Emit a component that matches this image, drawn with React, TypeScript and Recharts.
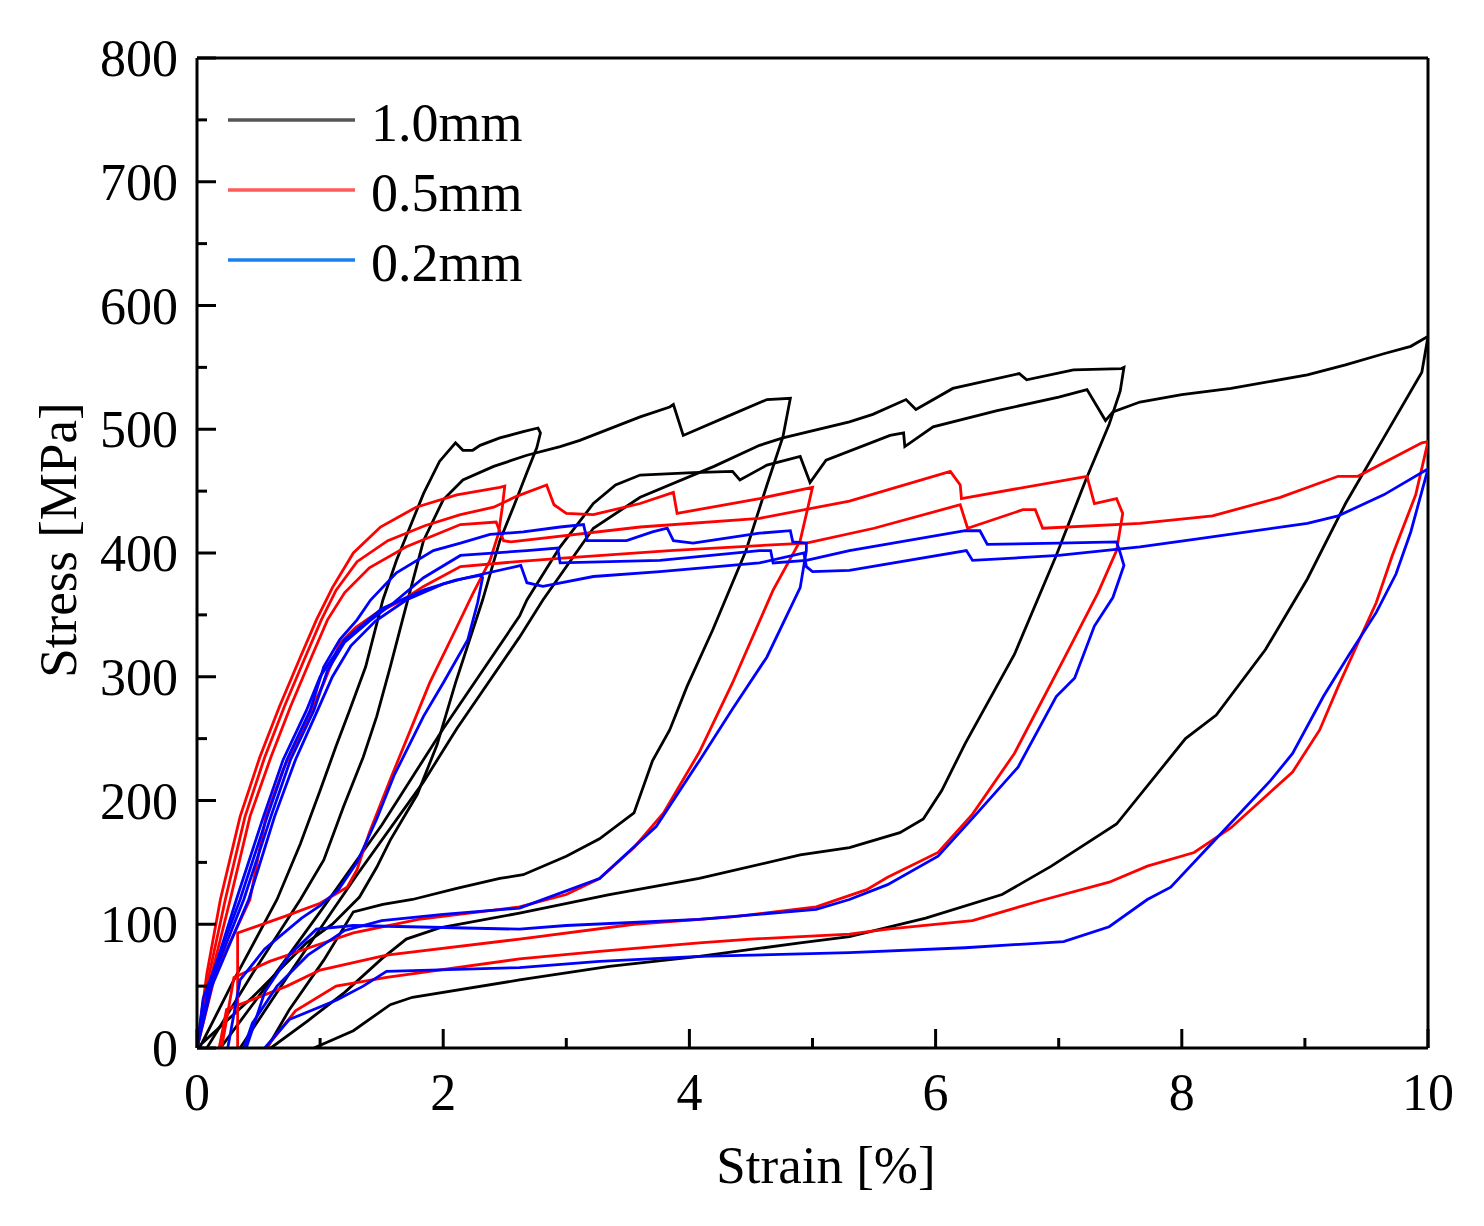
import React from 'react';
import { LineChart, Line, XAxis, YAxis, ReferenceLine } from 'recharts';

type Pt = [number, number];

// 1.0 mm specimens (black)
const black25Load: Pt[] = [[0.02, 0], [0.3, 55], [0.65, 120], [0.84, 165], [1.0, 208], [1.13, 244], [1.24, 273], [1.37, 308], [1.51, 362], [1.62, 394], [1.84, 448], [1.97, 474], [2.1, 489], [2.16, 483], [2.24, 483], [2.3, 487], [2.46, 493], [2.65, 498], [2.77, 501]];
const black25Unload: Pt[] = [[2.79, 497], [2.76, 485], [2.68, 465], [2.57, 437], [2.46, 410], [2.32, 362], [2.1, 295], [1.95, 245], [1.79, 205], [1.57, 168], [1.46, 146], [1.32, 122], [1.1, 100], [0.89, 85], [0.45, 41], [0, 0]];
const black50Load: Pt[] = [[0.08, 0], [0.45, 60], [0.84, 120], [1.03, 152], [1.19, 195], [1.35, 235], [1.46, 268], [1.57, 308], [1.68, 350], [1.84, 410], [2.0, 443], [2.16, 459], [2.41, 470], [2.68, 479], [2.95, 486], [3.11, 491], [3.6, 510], [3.84, 518], [3.87, 520], [3.95, 495], [4.3, 510], [4.63, 524], [4.82, 525]];
const black50Unload: Pt[] = [[4.82, 525], [4.76, 494], [4.63, 455], [4.46, 402], [4.19, 338], [3.98, 292], [3.84, 257], [3.7, 232], [3.55, 190], [3.27, 169], [3.0, 155], [2.65, 140], [2.46, 137], [2.11, 129], [1.75, 120], [1.51, 116], [1.27, 110], [1.03, 71], [0.75, 31], [0.57, 0]];
const black75Load: Pt[] = [[0.35, 0], [0.75, 60], [1.3, 140], [1.84, 215], [2.11, 258], [2.62, 332], [2.81, 362], [3.22, 420], [3.6, 445], [4.2, 470], [4.57, 487], [4.76, 493], [5.3, 506], [5.49, 512], [5.76, 524], [5.84, 516], [6.14, 533], [6.68, 545], [6.74, 540], [7.12, 548], [7.51, 549]];
const black75Unload: Pt[] = [[7.53, 550], [7.5, 531], [7.41, 504], [7.22, 459], [6.98, 398], [6.64, 318], [6.24, 246], [6.05, 208], [5.9, 185], [5.71, 174], [5.3, 162], [4.9, 156], [4.08, 137], [3.35, 124], [2.62, 109], [1.97, 97], [1.7, 88], [1.5, 72], [1.2, 45], [0.9, 22], [0.6, 0]];
const black100Load: Pt[] = [[0.19, 0], [0.6, 55], [1.0, 110], [1.5, 180], [2.0, 258], [2.62, 349], [2.68, 362], [2.95, 405], [3.22, 440], [3.4, 455], [3.6, 463], [4.03, 465], [4.35, 466], [4.41, 459], [4.63, 471], [4.9, 478], [4.98, 457], [5.11, 475], [5.63, 495], [5.74, 497], [5.75, 486], [5.98, 502], [6.5, 515], [7.0, 526], [7.23, 532], [7.38, 507], [7.44, 514], [7.66, 522], [8.0, 528], [8.4, 533], [9.02, 544], [9.33, 552], [9.64, 561], [9.86, 567], [10, 575]];
const black100Unload: Pt[] = [[10, 575], [9.95, 546], [9.64, 493], [9.33, 440], [9.02, 379], [8.68, 322], [8.28, 269], [8.03, 250], [7.47, 181], [6.94, 147], [6.54, 124], [5.92, 105], [5.3, 90], [4.9, 85], [4.08, 74], [3.35, 66], [2.62, 55], [1.75, 41], [1.57, 35], [1.27, 14], [0.95, 0]];

// 0.5 mm specimens (red)
const red25Load: Pt[] = [[0, 0], [0.08, 60], [0.19, 120], [0.35, 187], [0.51, 235], [0.67, 276], [0.84, 316], [0.97, 346], [1.1, 372], [1.27, 400], [1.49, 421], [1.78, 437], [2.11, 447], [2.46, 453], [2.5, 454]];
const red25Unload: Pt[] = [[2.5, 454], [2.48, 437], [2.45, 416], [2.38, 394], [2.24, 367], [2.11, 340], [1.89, 295], [1.57, 217], [1.4, 174], [1.3, 144], [1.22, 130], [1.0, 117], [0.73, 107], [0.33, 93], [0.33, 0]];
const red50Load: Pt[] = [[0, 0], [0.1, 60], [0.23, 120], [0.39, 187], [0.55, 235], [0.71, 276], [0.88, 316], [1.01, 346], [1.13, 370], [1.3, 393], [1.55, 410], [1.85, 422], [2.14, 431], [2.41, 437], [2.6, 446], [2.84, 455], [2.9, 439], [3.0, 432], [3.22, 431], [3.6, 440], [3.87, 449], [3.9, 432], [4.57, 444], [5.0, 453]];
const red50Unload: Pt[] = [[5.0, 453], [4.97, 440], [4.9, 410], [4.68, 370], [4.35, 295], [4.08, 239], [3.79, 190], [3.55, 162], [3.27, 137], [3.0, 124], [2.62, 114], [1.8, 104], [1.27, 93], [0.94, 82], [0.59, 70], [0.3, 57], [0.2, 0]];
const red75Load: Pt[] = [[0, 0], [0.12, 60], [0.27, 120], [0.43, 187], [0.6, 235], [0.76, 276], [0.93, 316], [1.06, 346], [1.2, 368], [1.4, 388], [1.7, 405], [2.14, 423], [2.43, 425], [2.49, 410], [2.55, 409], [3.6, 421], [4.57, 428], [5.3, 442], [6.12, 466], [6.2, 455], [6.21, 444], [7.23, 462], [7.29, 440], [7.47, 444], [7.52, 432]];
const red75Unload: Pt[] = [[7.52, 432], [7.47, 402], [7.32, 368], [7.04, 314], [6.64, 238], [6.3, 189], [6.02, 158], [5.61, 138], [5.44, 128], [5.03, 114], [4.35, 106], [3.55, 100], [2.62, 88], [1.54, 75], [1.0, 63], [0.73, 50], [0.24, 31], [0.18, 0]];
const red100Load: Pt[] = [[0, 0], [0.15, 60], [0.43, 120], [0.56, 187], [0.7, 225], [0.84, 254], [1.03, 295], [1.16, 327], [1.29, 340], [1.45, 351], [1.67, 362], [1.84, 373], [2.14, 389], [2.6, 393], [3.0, 396], [3.84, 402], [4.57, 406], [4.95, 408], [5.5, 420], [6.2, 439], [6.26, 420], [6.71, 435], [6.81, 435], [6.87, 420], [7.66, 424], [8.25, 430], [8.8, 445], [9.27, 462], [9.43, 462], [9.95, 489], [10, 490]];
const red100Unload: Pt[] = [[10, 490], [9.9, 447], [9.71, 398], [9.58, 360], [9.27, 292], [9.12, 257], [8.9, 223], [8.4, 178], [8.1, 158], [7.72, 147], [7.41, 134], [6.85, 119], [6.3, 103], [5.61, 96], [5.3, 92], [4.5, 88], [4.08, 85], [3.27, 78], [2.62, 72], [1.54, 57], [1.13, 50], [0.8, 30], [0.56, 0]];

// 0.2 mm specimens (blue)
const blue25Load: Pt[] = [[0, 0], [0.1, 50], [0.32, 120], [0.54, 187], [0.7, 233], [0.89, 273], [1.0, 300], [1.2, 330], [1.5, 355], [1.84, 370], [2.1, 378], [2.3, 382]];
const blue25Unload: Pt[] = [[2.32, 380], [2.28, 360], [2.2, 330], [2.0, 295], [1.84, 268], [1.6, 220], [1.46, 185], [1.3, 150], [1.15, 128], [1.0, 115], [0.85, 105], [0.55, 80], [0.35, 55], [0.25, 0]];
const blue50Load: Pt[] = [[0, 0], [0.05, 40], [0.35, 120], [0.57, 187], [0.73, 233], [0.92, 273], [1.03, 308], [1.16, 330], [1.3, 346], [1.41, 362], [1.62, 384], [1.92, 402], [2.14, 408], [2.38, 415], [2.65, 417], [2.95, 421], [3.14, 423], [3.17, 410], [3.49, 410], [3.7, 417], [3.82, 420], [3.87, 410], [4.03, 408], [4.57, 416], [4.82, 418], [4.84, 409], [4.95, 408]];
const blue50Unload: Pt[] = [[4.95, 402], [4.9, 372], [4.63, 316], [4.35, 274], [4.08, 232], [3.73, 179], [3.27, 137], [3.0, 127], [2.62, 113], [2.0, 108], [1.5, 103], [1.2, 95], [0.9, 75], [0.65, 50], [0.45, 20], [0.38, 0]];
const blue75Load: Pt[] = [[0, 0], [0.1, 50], [0.38, 120], [0.6, 187], [0.76, 233], [0.95, 273], [1.06, 305], [1.2, 328], [1.4, 345], [1.6, 360], [1.84, 380], [2.14, 398], [2.68, 402], [2.93, 404], [2.95, 392], [3.76, 394], [4.57, 402], [4.66, 402], [4.68, 392], [4.95, 394], [5.3, 402], [6.24, 418], [6.36, 418], [6.42, 407], [7.0, 408], [7.47, 409], [7.5, 400]];
const blue75Unload: Pt[] = [[7.53, 390], [7.44, 364], [7.29, 341], [7.13, 299], [6.98, 284], [6.67, 227], [6.33, 189], [6.02, 155], [5.61, 132], [5.3, 120], [5.03, 112], [4.08, 104], [3.0, 99], [2.62, 96], [1.27, 99], [0.97, 96], [0.75, 75], [0.55, 45], [0.4, 0]];
const blue100Load: Pt[] = [[0, 0], [0.12, 50], [0.42, 120], [0.63, 187], [0.8, 233], [0.98, 273], [1.1, 300], [1.25, 325], [1.45, 345], [1.7, 362], [2.0, 375], [2.19, 380], [2.59, 389], [2.63, 390], [2.68, 376], [2.81, 373], [3.22, 381], [3.76, 385], [4.57, 392], [4.93, 400], [4.95, 389], [5.0, 385], [5.3, 386], [6.25, 402], [6.3, 394], [7.0, 398], [7.66, 405], [8.1, 411], [9.02, 424], [9.27, 430], [9.64, 447], [10, 468]];
const blue100Unload: Pt[] = [[10, 468], [9.86, 417], [9.74, 383], [9.58, 352], [9.36, 318], [9.15, 284], [8.9, 238], [8.72, 216], [8.25, 166], [7.91, 130], [7.72, 120], [7.41, 98], [7.04, 86], [6.24, 81], [5.3, 77], [4.08, 74], [3.27, 70], [2.62, 65], [1.54, 62], [1.35, 50], [1.14, 39], [0.75, 23], [0.55, 0]];

const xTicks = [0, 1, 2, 3, 4, 5, 6, 7, 8, 9, 10];
const yTicks = [0, 50, 100, 150, 200, 250, 300, 350, 400, 450, 500, 550, 600, 650, 700, 750, 800];

const legendItems = [
  { label: '1.0mm', color: '#555555' },
  { label: '0.5mm', color: '#ff5a5a' },
  { label: '0.2mm', color: '#1a7ff0' },
];

const toPts = (a: Pt[]) => a.map(([x, y]) => ({ x, y }));

const series = [
  { key: 'b25', color: '#000000', data: toPts([...black25Load, ...black25Unload]) },
  { key: 'b50', color: '#000000', data: toPts([...black50Load, ...black50Unload]) },
  { key: 'b75', color: '#000000', data: toPts([...black75Load, ...black75Unload]) },
  { key: 'b100', color: '#000000', data: toPts([...black100Load, ...black100Unload]) },
  { key: 'r25', color: '#ff0000', data: toPts([...red25Load, ...red25Unload]) },
  { key: 'r50', color: '#ff0000', data: toPts([...red50Load, ...red50Unload]) },
  { key: 'r75', color: '#ff0000', data: toPts([...red75Load, ...red75Unload]) },
  { key: 'r100', color: '#ff0000', data: toPts([...red100Load, ...red100Unload]) },
  { key: 'u25', color: '#0000ff', data: toPts([...blue25Load, ...blue25Unload]) },
  { key: 'u50', color: '#0000ff', data: toPts([...blue50Load, ...blue50Unload]) },
  { key: 'u75', color: '#0000ff', data: toPts([...blue75Load, ...blue75Unload]) },
  { key: 'u100', color: '#0000ff', data: toPts([...blue100Load, ...blue100Unload]) },
];

const FONT = '"Liberation Serif", "Times New Roman", serif';

const YTick = ({ x, y, payload }: any) => {
  const major = payload.value % 100 === 0;
  return (
    <g>
      <line x1={x} x2={x + (major ? 19 : 10)} y1={y} y2={y} stroke="#000" strokeWidth={3} />
      {major && (
        <text x={x - 19} y={y} dy={18} textAnchor="end" fontSize={52} fontFamily={FONT} fill="#000">
          {payload.value}
        </text>
      )}
    </g>
  );
};

const XTick = ({ x, y, payload }: any) => {
  const major = payload.value % 2 === 0;
  return (
    <g>
      <line x1={x} x2={x} y1={y} y2={y - (major ? 19 : 10)} stroke="#000" strokeWidth={3} />
      {major && (
        <text x={x} y={y + 62} textAnchor="middle" fontSize={52} fontFamily={FONT} fill="#000">
          {payload.value}
        </text>
      )}
    </g>
  );
};

export default function App() {
  return (
    <div style={{ position: 'relative', width: 1468, height: 1210, background: '#fff' }}>
      <LineChart width={1468} height={1210} margin={{ top: 50, right: 48, bottom: 50, left: 39 }}>
        <XAxis
          type="number"
          dataKey="x"
          domain={[0, 10]}
          ticks={xTicks}
          interval={0}
          allowDataOverflow
          height={120}
          tickSize={0}
          tickMargin={0}
          tick={<XTick />}
          axisLine={{ stroke: '#000', strokeWidth: 3 }}
        />
        <YAxis
          type="number"
          domain={[0, 800]}
          ticks={yTicks}
          interval={0}
          allowDataOverflow
          width={150}
          tickSize={0}
          tickMargin={0}
          tick={<YTick />}
          axisLine={{ stroke: '#000', strokeWidth: 3 }}
        />
        <ReferenceLine y={800} stroke="#000" strokeWidth={3} />
        <ReferenceLine x={10} stroke="#000" strokeWidth={3} />
        {series.map((s) => (
          <Line
            key={s.key}
            data={s.data}
            dataKey="y"
            type="linear"
            stroke={s.color}
            strokeWidth={2.8}
            dot={false}
            activeDot={false}
            isAnimationActive={false}
          />
        ))}
      </LineChart>
      <svg width={1468} height={1210} style={{ position: 'absolute', left: 0, top: 0, pointerEvents: 'none' }}>
        {legendItems.map((item, i) => (
          <g key={item.label}>
            <line x1={220} x2={347} y1={112 + i * 70} y2={112 + i * 70} stroke={item.color} strokeWidth={3.5} />
            <text x={363} y={133 + i * 70} fontSize={54} fontFamily={FONT} fill="#000">
              {item.label}
            </text>
          </g>
        ))}
        <text x={818} y={1175} textAnchor="middle" fontSize={53} fontFamily={FONT} fill="#000">
          Strain [%]
        </text>
        <text x={68} y={532} transform="rotate(-90 68 532)" textAnchor="middle" fontSize={53} fontFamily={FONT} fill="#000">
          Stress [MPa]
        </text>
      </svg>
    </div>
  );
}
